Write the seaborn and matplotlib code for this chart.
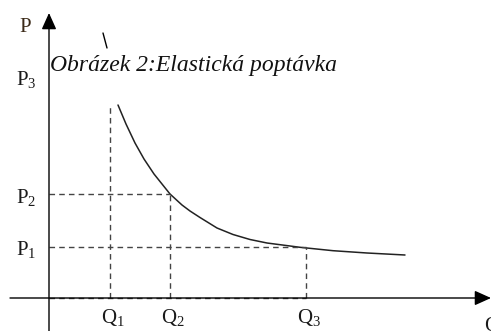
import matplotlib
matplotlib.use("Agg")
import matplotlib.pyplot as plt
import pandas as pd
import seaborn as sns

sns.set_style("white")
plt.rcParams["font.family"] = ["Liberation Serif", "DejaVu Serif"]
plt.rcParams["mathtext.fontset"] = "custom"
plt.rcParams["mathtext.rm"] = "Liberation Serif"
plt.rcParams["mathtext.it"] = "Liberation Serif:italic"

# demand curve (origin = axis crossing, 1 unit ~ 1 px)
curve_q = [69, 77, 86, 95, 105, 121, 133, 141, 151, 168, 184, 201, 218, 251, 284, 318, 356]
curve_p = [193, 174, 155, 139, 124, 104, 93, 87, 80.5, 70, 63.5, 58.5, 55, 50.7, 47.3, 45, 43]

q_levels = [61, 121, 257]
p_levels = [51, 104, 193]
q_labels = ["Q$_\\mathrm{1}$", "Q$_\\mathrm{2}$", "Q$_\\mathrm{3}$"]
p_labels = ["P$_\\mathrm{1}$", "P$_\\mathrm{2}$", "P$_\\mathrm{3}$"]
caption = "Obrázek 2:Elastická poptávka"

fig = plt.figure(figsize=(4.91, 3.31), dpi=100)
ax = fig.add_axes([0, 0, 1, 1])
ax.set_xlim(-49, 442)
ax.set_ylim(-33, 298)
ax.axis("off")

df = pd.DataFrame({"Q": curve_q, "P": curve_p})
sns.lineplot(data=df, x="Q", y="P", ax=ax, color="#222222", lw=1.1, sort=False)

# dashed guides
dash = dict(color="#444444", lw=1.0, ls=(0, (4, 3)))
ax.plot([q_levels[0], q_levels[0]], [0, p_levels[2]], **dash)
ax.plot([q_levels[1], q_levels[1]], [0, p_levels[1]], **dash)
ax.plot([q_levels[2], q_levels[2]], [0, p_levels[0]], **dash)
ax.plot([0, q_levels[1]], [p_levels[1], p_levels[1]], **dash)
ax.plot([0, q_levels[2]], [p_levels[0], p_levels[0]], **dash)
ax.plot([0, q_levels[2]], [0, 0], **dash)

# axes with arrows
ax.annotate("", xy=(442, 0), xytext=(-39, 0),
            arrowprops=dict(arrowstyle="-|>,head_length=1.0,head_width=0.45",
                            color="black", lw=1.0, shrinkA=0, shrinkB=0))
ax.annotate("", xy=(0, 285), xytext=(0, -33),
            arrowprops=dict(arrowstyle="-|>,head_length=1.0,head_width=0.45",
                            color="black", lw=1.0, shrinkA=0, shrinkB=0))

# labels
ax.text(-24, 271, "P", fontsize=15, ha="center", va="center", color="#3b2a18")
for p, lab in zip(p_levels, p_labels):
    y = p + 25 if lab == p_labels[2] else p - 3
    ax.text(-23, y, lab, fontsize=15, ha="center", va="center", color="#1a1a1a")
for q, lab in zip(q_levels, q_labels):
    ax.text(q + 3, -20, lab, fontsize=15, ha="center", va="center", color="#1a1a1a")
ax.text(443, -29, "Q", fontsize=15, ha="center", va="center", color="#1a1a1a")

# small stray stroke and caption
ax.plot([54, 58], [265, 250], color="black", lw=1.0)
ax.text(1, 227, caption, fontsize=17, style="italic", ha="left", va="baseline",
        color="#111111")

fig.savefig("out.png", dpi=100)
